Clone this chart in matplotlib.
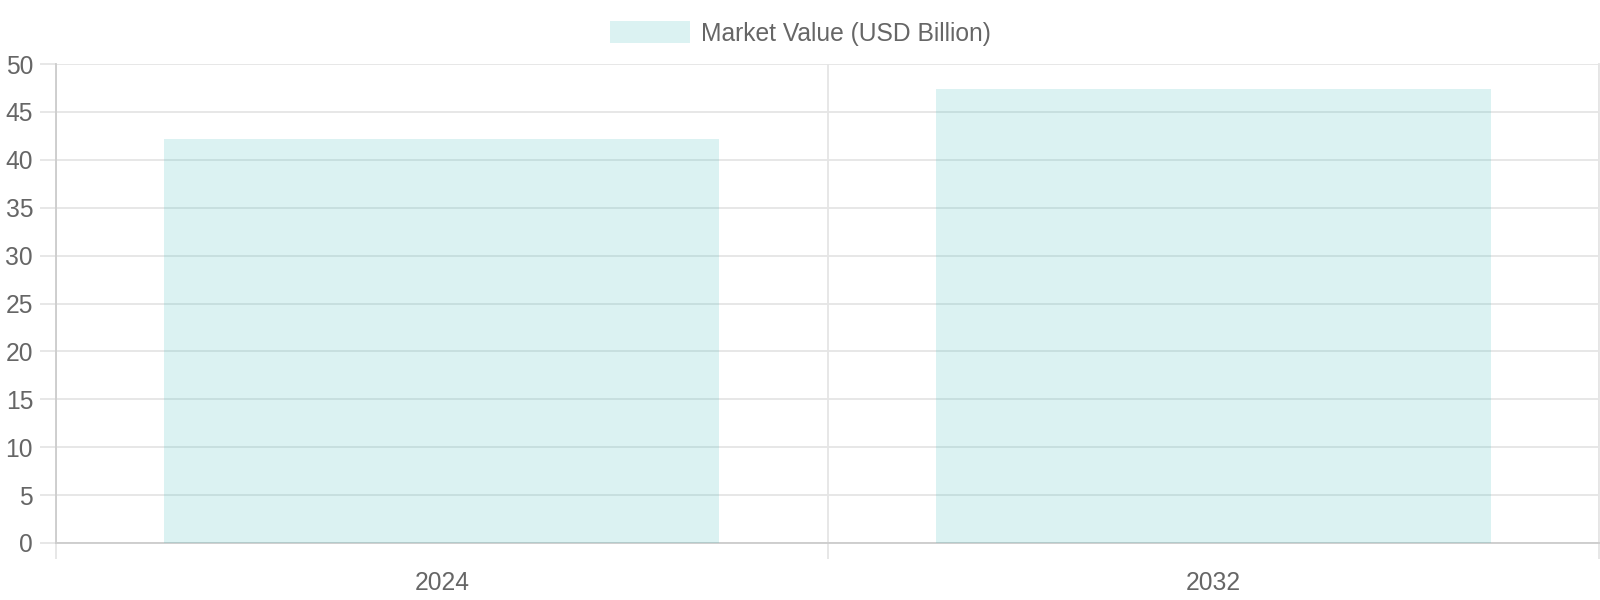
import matplotlib
matplotlib.use("Agg")
import matplotlib.pyplot as plt
from matplotlib.patches import Patch

categories = ["2024", "2032"]
values = [42.2, 47.4]
series_label = "Market Value (USD Billion)"
y_ticks = [0, 5, 10, 15, 20, 25, 30, 35, 40, 45, 50]

plt.rcParams['font.family'] = ['Liberation Sans', 'DejaVu Sans']
FS = 17.7
TXT = '#666666'
GRID = '#e5e5e5'
AXIS = '#cccccc'
BAR = (75/255, 192/255, 192/255, 0.2)

fig = plt.figure(figsize=(16, 6), dpi=100)
ax = fig.add_axes([56/1600, 1 - 543/600, (1599 - 56)/1600, (543 - 64)/600])

x = list(range(len(categories)))
ax.bar(x, values, width=0.72, color=BAR, zorder=3, linewidth=0)

ax.set_xlim(-0.5, len(categories) - 0.5)
ax.set_ylim(0, 50)
ax.set_yticks(y_ticks)
ax.set_yticklabels([str(t) for t in y_ticks])

# category boundaries as major ticks (grid), labels at centers as minor ticks
bounds = [i - 0.5 for i in range(len(categories) + 1)]
ax.set_xticks(bounds)
ax.set_xticklabels([''] * len(bounds))
ax.set_xticks(x, minor=True)
ax.set_xticklabels(categories, minor=True)

ax.tick_params(axis='x', which='major', length=11.5, width=1.3, color=GRID)
ax.tick_params(axis='x', which='minor', length=0, pad=20.5, labelsize=FS, labelcolor=TXT)
ax.tick_params(axis='y', length=11.5, width=1.3, color=GRID, pad=5, labelsize=FS, labelcolor=TXT)

ax.grid(True, which='major', color=GRID, linewidth=1.3, zorder=0)
ax.set_axisbelow(True)

ax.spines['top'].set_visible(False)
ax.spines['right'].set_color(GRID)
ax.spines['right'].set_linewidth(1.3)
ax.spines['left'].set_color(AXIS)
ax.spines['left'].set_linewidth(1.3)
ax.spines['bottom'].set_color(AXIS)
ax.spines['bottom'].set_linewidth(1.3)

handle = Patch(facecolor=BAR, edgecolor='none', label=series_label)
fig.legend(handles=[handle], loc='center', bbox_to_anchor=(0.5, 1 - 33.5/600),
           frameon=False, fontsize=FS, labelcolor=TXT,
           handlelength=80/(FS*100/72), handleheight=24/(FS*100/72),
           handletextpad=0.45)

fig.savefig('out.png', dpi=100, facecolor='white')
